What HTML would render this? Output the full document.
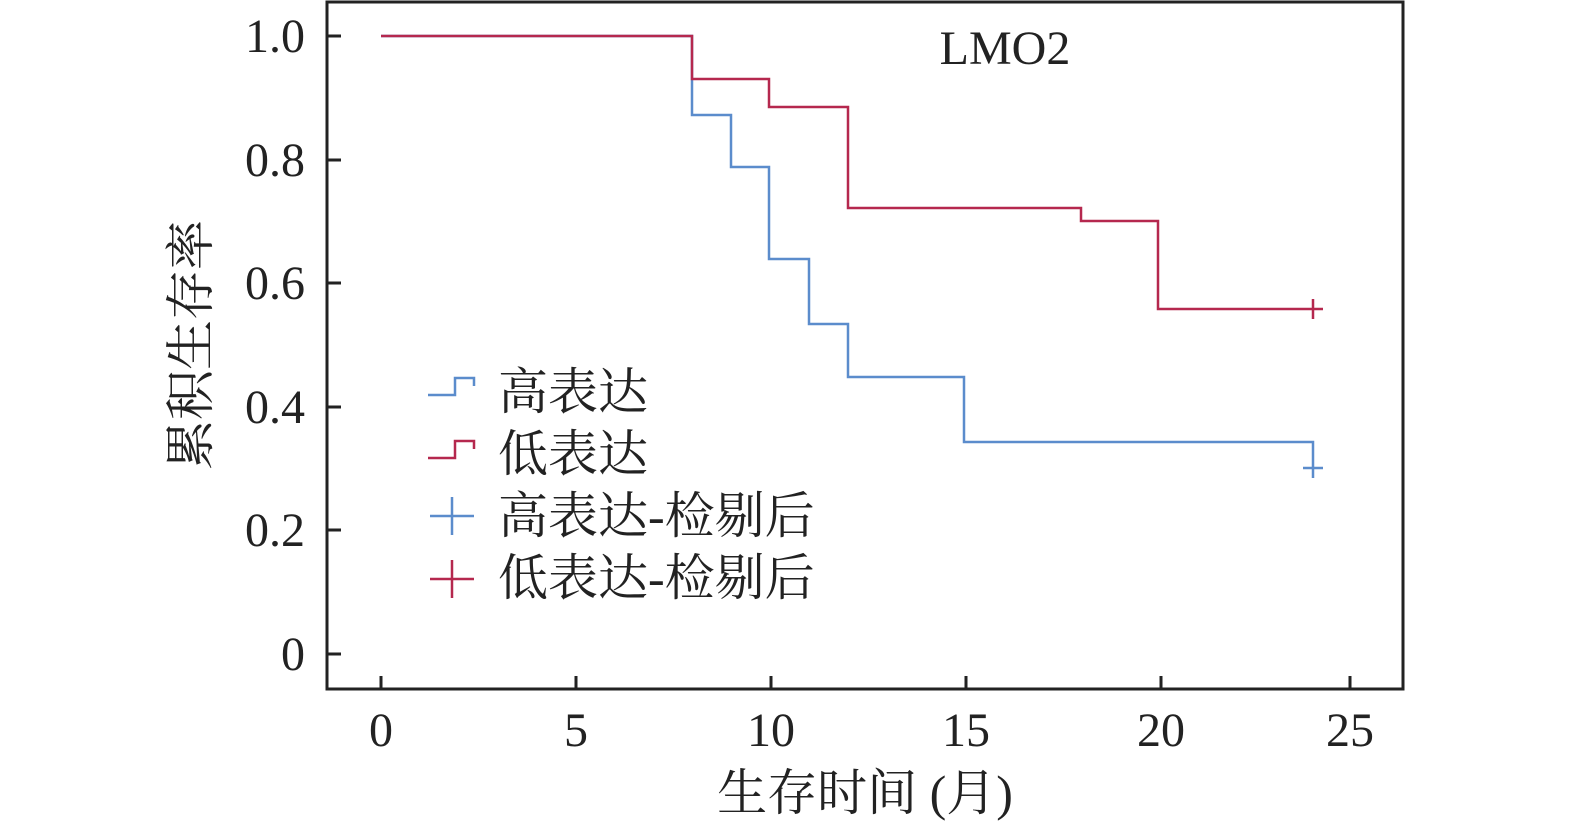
<!DOCTYPE html>
<html><head><meta charset="utf-8"><style>
html,body{margin:0;padding:0;background:#fff;}
text{font-family:"Liberation Serif","Noto Serif CJK SC",serif;fill:#222;}
</style></head><body>
<svg width="1575" height="830" xmlns="http://www.w3.org/2000/svg">
<rect x="327" y="2" width="1076" height="687" fill="none" stroke="#222" stroke-width="3"/>
<g stroke="#222" stroke-width="3">
<line x1="327" y1="36" x2="341" y2="36"/><line x1="327" y1="160" x2="341" y2="160"/>
<line x1="327" y1="283" x2="341" y2="283"/><line x1="327" y1="407" x2="341" y2="407"/>
<line x1="327" y1="530" x2="341" y2="530"/><line x1="327" y1="654" x2="341" y2="654"/>
<line x1="381" y1="689" x2="381" y2="676"/><line x1="576" y1="689" x2="576" y2="676"/>
<line x1="771" y1="689" x2="771" y2="676"/><line x1="966" y1="689" x2="966" y2="676"/>
<line x1="1161" y1="689" x2="1161" y2="676"/><line x1="1350" y1="689" x2="1350" y2="676"/>
</g>
<g font-size="48" text-anchor="end">
<text x="305" y="52">1.0</text><text x="305" y="176">0.8</text><text x="305" y="299">0.6</text>
<text x="305" y="423">0.4</text><text x="305" y="546">0.2</text><text x="305" y="670">0</text>
</g>
<g font-size="48" text-anchor="middle">
<text x="381" y="746">0</text><text x="576" y="746">5</text><text x="771" y="746">10</text>
<text x="966" y="746">15</text><text x="1161" y="746">20</text><text x="1350" y="746">25</text>
</g>
<text x="865" y="810" font-size="50" text-anchor="middle">生存时间 (月)</text>
<text transform="translate(208,345) rotate(-90)" font-size="50" text-anchor="middle">累积生存率</text>
<text x="1005" y="64" font-size="48" text-anchor="middle">LMO2</text>
<polyline fill="none" stroke="#5b8ccc" stroke-width="2.5" points="381,36 692,36 692,115 731,115 731,167 769,167 769,259 809,259 809,324 848,324 848,377 964,377 964,442 1313,442 1313,478"/>
<line x1="1303" y1="468" x2="1323" y2="468" stroke="#5b8ccc" stroke-width="2.5"/>
<polyline fill="none" stroke="#b5284e" stroke-width="2.5" points="381,36 692,36 692,79 769,79 769,107 848,107 848,208 1081,208 1081,221 1158,221 1158,309 1323,309"/>
<line x1="1313" y1="299" x2="1313" y2="319" stroke="#b5284e" stroke-width="2.5"/>
<g stroke-width="2.5" fill="none">
<polyline stroke="#5b8ccc" points="428,395 455,395 455,378 474,378 474,386"/>
<polyline stroke="#b5284e" points="428,458 455,458 455,441 474,441 474,449"/>
<line stroke="#5b8ccc" x1="430" y1="516" x2="474" y2="516"/><line stroke="#5b8ccc" x1="452" y1="497" x2="452" y2="535"/>
<line stroke="#b5284e" x1="430" y1="579" x2="474" y2="579"/><line stroke="#b5284e" x1="452" y1="560" x2="452" y2="598"/>
</g>
<g font-size="50">
<text x="498" y="409">高表达</text><text x="498" y="471">低表达</text>
<text x="498" y="533">高表达-检剔后</text><text x="498" y="595">低表达-检剔后</text>
</g>
</svg>
</body></html>
